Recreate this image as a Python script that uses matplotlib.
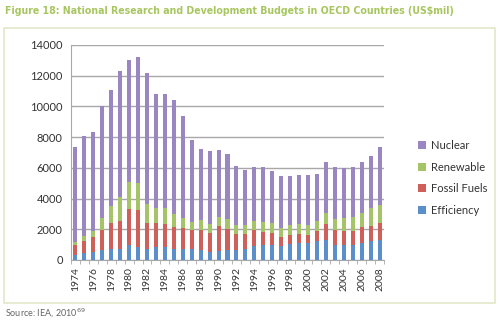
#!/usr/bin/env python3
"""Stacked bar chart of OECD energy R&D budgets, 1974-2008."""

import numpy as np
import matplotlib
matplotlib.use("Agg")
import matplotlib.pyplot as plt
from matplotlib.patches import Rectangle

years = [str(y) for y in range(1974, 2009)]

efficiency = [300, 470, 530, 640, 720, 740, 960, 870, 740, 850, 850, 740,
              690, 690, 650, 540, 600, 650, 650, 690, 900, 970, 970, 880,
              1050, 1120, 1120, 1250, 1320, 1000, 1000, 1000, 1100, 1230, 1290]
fossil = [700, 770, 960, 1330, 1710, 1830, 2360, 2360, 1690, 1540, 1500, 1440,
          1410, 1250, 1290, 1220, 1590, 1390, 1030, 990, 1040, 860, 790, 640,
          570, 560, 540, 620, 1010, 940, 920, 920, 1070, 1010, 1100]
renewable = [200, 320, 410, 760, 1110, 1550, 1780, 1800, 1210, 1000, 1040, 820,
             650, 560, 640, 560, 610, 650, 580, 580, 600, 640, 650, 580,
             630, 640, 610, 680, 720, 740, 840, 850, 860, 1140, 1220]
nuclear = [6130, 6530, 6430, 7270, 7550, 8180, 7920, 8210, 8560, 7440, 7440, 7430,
           6650, 5330, 4650, 4760, 4380, 4230, 3850, 3630, 3520, 3590, 3370, 3360,
           3250, 3210, 3280, 3020, 3340, 3380, 3240, 3290, 3340, 3370, 3720]

series = [("Efficiency", efficiency, "#5b8fcc"),
          ("Fossil Fuels", fossil, "#cf5f5a"),
          ("Renewable", renewable, "#a5c467"),
          ("Nuclear", nuclear, "#9a86c0")]

plt.rcParams['font.family'] = ['Lato', 'DejaVu Sans']

fig = plt.figure(figsize=(5.0, 3.21), dpi=100)
fig.patch.set_facecolor("white")

# light frame around the chart
fig.patches.append(Rectangle((4 / 500, 1 - 303 / 321), 491 / 500, 275 / 321,
                             transform=fig.transFigure, facecolor="none",
                             edgecolor="#e3e8c8", linewidth=1.2, zorder=0))

ax = fig.add_axes([71 / 500, 1 - 260 / 321, 313 / 500, 215 / 321])
ax.set_zorder(2)

x = np.arange(len(years))
bottom = np.zeros(len(years))
handles = []
for name, vals, color in series:
    b = ax.bar(x, vals, width=0.45, bottom=bottom, color=color, label=name,
               zorder=3)
    bottom += np.array(vals)
    handles.append(b)

ax.set_xlim(-0.5, len(years) - 0.5)
ax.set_ylim(0, 14000)
ax.set_yticks(range(0, 14001, 2000))
ax.yaxis.grid(True, color="#a8a8a8", linewidth=1.0, zorder=0)
ax.tick_params(axis="y", length=0, labelsize=8, colors="#333333", pad=6)

ax.set_xticks(x[::2])
ax.set_xticklabels(years[::2], rotation=90, fontsize=7.5, color="#333333")
ax.set_xticks(np.arange(-0.5, len(years), 1), minor=True)
ax.tick_params(axis="x", which="major", length=0, pad=5)
ax.tick_params(axis="x", which="minor", length=3, color="#a8a8a8")

for side in ["top", "right"]:
    ax.spines[side].set_visible(False)
for side in ["left", "bottom"]:
    ax.spines[side].set_color("#a8a8a8")

leg = fig.legend(handles[::-1], [s[0] for s in series][::-1],
                 loc="upper left", bbox_to_anchor=(408 / 500, 1 - 130 / 321),
                 frameon=False, fontsize=8, handlelength=0.7,
                 handleheight=0.7, handletextpad=0.5, labelspacing=0.95)
for t in leg.get_texts():
    t.set_color("#333333")

fig.text(5 / 500, 1 - 11 / 321,
         "Figure 18: National Research and Development Budgets in OECD Countries (US$mil)",
         fontsize=7.6, fontweight="bold", color="#a8c660", va="center",
         family=["DejaVu Sans"], fontstretch="condensed")

fig.text(5 / 500, 1 - 313 / 321, "Source: IEA, 2010$^{69}$", fontsize=6.5,
         color="#666666", va="center")

fig.savefig("out.png", dpi=100, facecolor="white")
